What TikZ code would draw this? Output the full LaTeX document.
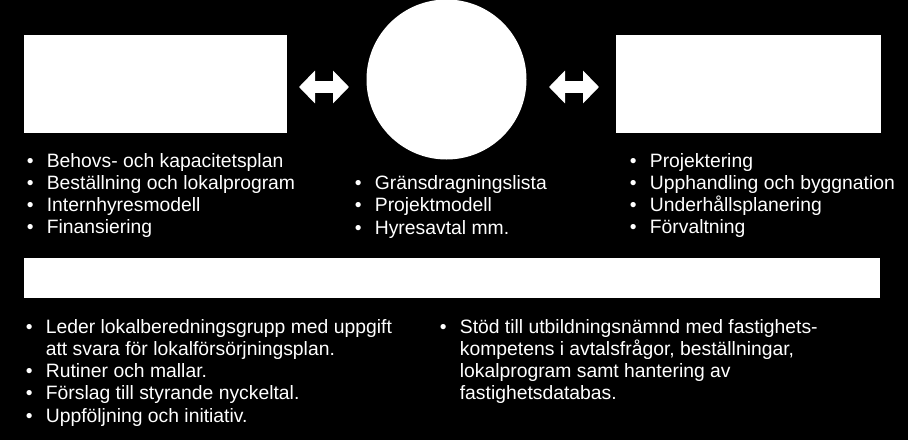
\documentclass[tikz,border=0pt]{standalone}
\usepackage{fontspec}
\setmainfont{Liberation Sans}
\usetikzlibrary{arrows.meta}
\tikzstyle{Box}=[rectangle,fill=white,draw=none,inner sep=0pt]
\tikzstyle{Round}=[circle,fill=white,draw=none,inner sep=0pt,
minimum size=120bp]
\tikzstyle{Twin}=[draw=white,line width=9bp,
{Triangle[width=24bp,length=12bp]}-{Triangle[width=24bp,length=12bp]}]
\tikzstyle{List}=[text=white,inner sep=0pt,anchor=base west,
font=\fontsize{14.5bp}{16.7bp}\selectfont]
\newcommand{\Bullets}[1]{\begin{tabular}[t]{@{}l@{\hspace{10bp}}l@{}}#1\end{tabular}}

\begin{document}
\begin{tikzpicture}[x=0.75bp,y=-0.75bp]
        \fill[black](0,0)rectangle(908,440);
        \useasboundingbox(0,0)rectangle(908,440);
        \node[Box,minimum width=197.25bp,minimum height=73.5bp](Plan)at(155.5,84){};
        \node[Round](Mid)at(446.5,79.5){};
        \node[Box,minimum width=198.75bp,minimum height=73.5bp](Build)at(748.5,84){};
        \node[Box,minimum width=642bp,minimum height=30bp](Base)at(452,278){};
        \coordinate(a1)at(299,87);
        \coordinate(a2)at(349,87);
        \coordinate(b1)at(549,87);
        \coordinate(b2)at(599,87);
        \draw[Twin](a1)--(a2);
        \draw[Twin](b1)--(b2);
        \node[List](PlanList)at(26.5,167){\Bullets{%
            \textbullet & Behovs- och kapacitetsplan\\
            \textbullet & Beställning och lokalprogram\\
            \textbullet & Internhyresmodell\\
            \textbullet & Finansiering}};
        \node[List](MidList)at(354.5,189.5){\Bullets{%
            \textbullet & Gränsdragningslista\\
            \textbullet & Projektmodell\\
            \textbullet & Hyresavtal mm.}};
        \node[List](BuildList)at(629.5,167){\Bullets{%
            \textbullet & Projektering\\
            \textbullet & Upphandling och byggnation\\
            \textbullet & Underhållsplanering\\
            \textbullet & Förvaltning}};
        \node[List](BaseLeft)at(25.5,333){\Bullets{%
            \textbullet & Leder lokalberedningsgrupp med uppgift\\
                        & att svara för lokalförsörjningsplan.\\
            \textbullet & Rutiner och mallar.\\
            \textbullet & Förslag till styrande nyckeltal.\\
            \textbullet & Uppföljning och initiativ.}};
        \node[List](BaseRight)at(439.5,333){\Bullets{%
            \textbullet & Stöd till utbildningsnämnd med fastighets-\\
                        & kompetens i avtalsfrågor, beställningar,\\
                        & lokalprogram samt hantering av\\
                        & fastighetsdatabas.}};
    \end{tikzpicture}
\end{document}
